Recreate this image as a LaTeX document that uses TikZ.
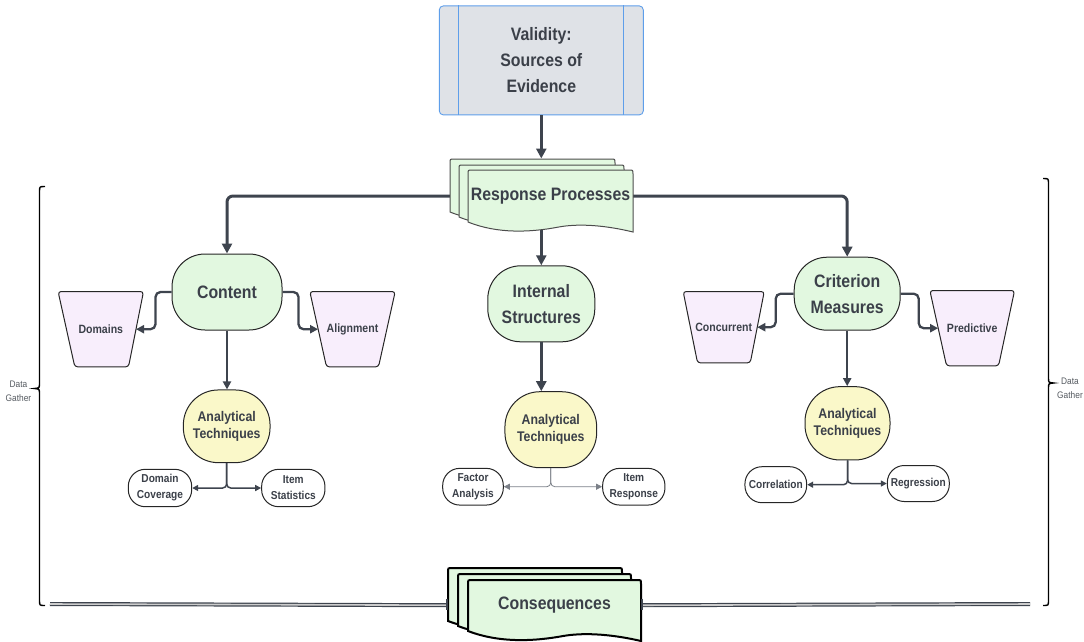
\documentclass[tikz,border=0pt]{standalone}
\usepackage{fontspec}
\setmainfont{Liberation Sans}
\newfontfamily\diagfont{Liberation Sans}[FakeStretch=0.88]
\usetikzlibrary{arrows.meta,backgrounds,calc}

\definecolor{ink}{HTML}{3B4049}
\definecolor{wire}{HTML}{3E444E}
\definecolor{softwire}{HTML}{7B8088}
\definecolor{grn}{HTML}{E2F8E0}
\definecolor{ylw}{HTML}{FAF8C9}
\definecolor{lav}{HTML}{F8EEFC}
\definecolor{topfill}{HTML}{DFE2E7}
\definecolor{topline}{HTML}{5E9EEA}
\definecolor{notegray}{HTML}{555A60}

% one page of a stacked-document shape: style, left x, top y, right x, bottom-left y
\newcommand\docsheet[5]{%
  \path[#1] (#2,#5) -- (#2,{#3+4}) .. controls (#2,#3) .. ({#2+4},#3)
    -- ({#4-4},#3) .. controls (#4,#3) .. (#4,{#3+4}) -- (#4,{#5+10})
    .. controls ({#2+0.8*(#4-#2)},{#5+2}) and ({#2+0.65*(#4-#2)},{#5+2}) .. ({#2+0.55*(#4-#2)},{#5+5})
    .. controls ({#2+0.38*(#4-#2)},{#5+10.4}) and ({#2+0.18*(#4-#2)},{#5+12}) .. (#2,#5) -- cycle;}

% trapezoid outline around a label node: node name, left inset, right inset
\newcommand\trapz[3]{%
  \begin{pgfonlayer}{background}
  \path[trapshape] (#1.north west) -- (#1.north east) -- ([xshift=-#3pt]#1.south east)
    -- ([xshift=#2pt]#1.south west) -- cycle;
  \end{pgfonlayer}}

\begin{document}
\begin{tikzpicture}[x=1pt,y=-1pt,
  bigtext/.style={font=\diagfont\bfseries\fontsize{18}{26}\selectfont, text=ink, align=center, inner sep=0pt},
  midtext/.style={font=\diagfont\bfseries\fontsize{14}{17}\selectfont, text=ink, align=center, inner sep=0pt},
  smalltext/.style={font=\diagfont\bfseries\fontsize{11.5}{16}\selectfont, text=ink, align=center, inner sep=0pt},
  topbox/.style={bigtext, draw=topline, fill=topfill, line width=0.9pt, rounded corners=4pt},
  greenblob/.style={bigtext, draw=black!85, fill=grn, line width=1pt, rounded corners=33pt},
  yellowblob/.style={midtext, draw=black!85, fill=ylw, line width=1pt, rounded corners=35pt},
  pill/.style={smalltext, draw=black!85, fill=white, line width=1pt, rounded corners=17pt},
  traplabel/.style={font=\diagfont\bfseries\fontsize{12}{14}\selectfont, text=ink, align=center, inner sep=0pt},
  trapshape/.style={draw=black!85, fill=lav, line width=1pt, rounded corners=3pt},
  rpsheet/.style={draw=black!70, fill=grn, line width=1pt},
  conssheet/.style={draw=black, fill=grn, line width=2pt},
  note/.style={font=\diagfont\fontsize{9.5}{14}\selectfont, text=notegray, align=center, inner sep=0pt},
  heavy/.style={draw=wire, line width=3pt, -{Triangle[length=10pt,width=10pt]}},
  medium/.style={draw=wire, line width=2.3pt, rounded corners=5pt, -{Triangle[length=8pt,width=8pt]}},
  branch/.style={draw=wire, line width=1.5pt, rounded corners=4pt, -{Triangle[length=6pt,width=6pt]}},
  softbranch/.style={draw=softwire, line width=0.8pt, rounded corners=4pt, -{Triangle[length=6pt,width=6pt]}},
  dbl/.style={draw=wire, line width=1.2pt, double=black!20, double distance=1.6pt},
  brace/.style={draw=black, line width=1.4pt}
]
\useasboundingbox (0,0) rectangle (1084,641);

% ---------- title ----------
\node[topbox, minimum width=204pt, minimum height=109pt] (val) at (541.3,60.4)
  {Validity:\\Sources of\\Evidence};
\draw[topline, line width=0.9pt] ([xshift=20pt]val.north west) -- ([xshift=20pt]val.south west);
\draw[topline, line width=0.9pt] ([xshift=-20pt]val.north east) -- ([xshift=-20pt]val.south east);

% ---------- response processes (stacked documents) ----------
\docsheet{rpsheet}{450}{159}{615}{212}
\docsheet{rpsheet}{459}{165}{624}{217}
\docsheet{rpsheet}{468}{170}{633}{222}
\node[bigtext] (rp) at (550.5,196) {Response Processes};
\coordinate (rptop) at (541.3,158.5);
\draw[heavy] (val.south) -- (rptop);

% ---------- three sources ----------
\node[greenblob, minimum width=110pt, minimum height=76pt] (cont) at (227,292) {Content};
\node[greenblob, minimum width=107pt, minimum height=76pt] (ints) at (541.3,303.8) {Internal\\Structures};
\node[greenblob, minimum width=106pt, minimum height=73pt] (crit) at (847.2,293.7) {Criterion\\Measures};

\begin{pgfonlayer}{background}
\draw[heavy, rounded corners=6pt] (rp.center) -| (cont.north);
\draw[heavy, rounded corners=6pt] (rp.center) -| (crit.north);
\draw[heavy] (ints.north |- rp.center) -- (ints.north);
\end{pgfonlayer}

% ---------- side categories ----------
\node[traplabel, minimum width=85pt, minimum height=75pt] (dom) at (100.8,329.2) {Domains};
\trapz{dom}{16.7}{15}
\node[traplabel, minimum width=85pt, minimum height=75pt] (ali) at (352.5,329.2) {Alignment};
\trapz{ali}{16.7}{16.7}
\node[traplabel, minimum width=80.7pt, minimum height=71pt] (conc) at (723.7,327.2) {Concurrent};
\trapz{conc}{14.4}{14}
\node[traplabel, minimum width=84.3pt, minimum height=75pt] (pred) at (972.2,328.2) {Predictive};
\trapz{pred}{16.7}{16}

\draw[medium] (cont.west) -- ++(-16,0) |- ([xshift=-7.5pt]dom.east);
\draw[medium] (cont.east) -- ++(16,0) |- ([xshift=8.3pt]ali.west);
\draw[medium] (crit.west) -- ++(-18,0) |- ([xshift=-7pt]conc.east);
\draw[medium] (crit.east) -- ++(18,0) |- ([xshift=8.3pt]pred.west);

% ---------- analytical techniques ----------
\node[yellowblob, minimum width=86.7pt, minimum height=72.7pt] (at1) at (226.7,426.3) {Analytical\\Techniques};
\node[yellowblob, minimum width=91.7pt, minimum height=76pt] (at2) at (550.8,429.7) {Analytical\\Techniques};
\node[yellowblob, minimum width=85pt, minimum height=73.3pt] (at3) at (847.5,423.3) {Analytical\\Techniques};

\draw[medium] (cont.south) -- (cont.south |- at1.north);
\draw[heavy] (ints.south) -- (ints.south |- at2.north);
\draw[medium] (crit.south) -- (crit.south |- at3.north);

% ---------- methods ----------
\node[pill, minimum width=63.4pt, minimum height=37.4pt] (dcov) at (160,488) {Domain\\Coverage};
\node[pill, minimum width=63.3pt, minimum height=37.4pt] (istat) at (293.3,488) {Item\\Statistics};
\node[pill, minimum width=60.6pt, minimum height=36.7pt] (fa) at (473,486.7) {Factor\\Analysis};
\node[pill, minimum width=62.3pt, minimum height=36.7pt] (ir) at (633.8,486.7) {Item\\Response};
\node[pill, minimum width=61.7pt, minimum height=36pt] (corr) at (775.8,484.7) {Correlation};
\node[pill, minimum width=62pt, minimum height=36pt] (reg) at (918.3,483.5) {Regression};

\draw[branch] (at1.south) |- (dcov.east);
\draw[branch] (at1.south) |- (istat.west);
\draw[softbranch] (at2.south) |- (fa.east);
\draw[softbranch] (at2.south) |- (ir.west);
\draw[branch] (at3.south) |- (corr.east);
\draw[branch] (at3.south) |- (reg.west);

% ---------- consequences ----------
\docsheet{conssheet}{448}{568}{622}{621}
\docsheet{conssheet}{458}{574}{631}{626}
\docsheet{conssheet}{468}{580}{641}{631}
\node[bigtext] (cons) at (554.5,605.5) {Consequences};
\coordinate (dl) at (50,604);
\coordinate (dr) at (1030,604);
\begin{pgfonlayer}{background}
\draw[dbl] (dl) -- (cons.center);
\draw[dbl] (cons.center) -- (dr);
\end{pgfonlayer}
\draw[wire, line width=2.4pt] (446.8,598.5) -- (446.8,609.5);
\draw[wire, line width=2.4pt] (642.2,598.5) -- (642.2,609.5);

% ---------- data-gathering braces ----------
\draw[brace] (45,186.5) .. controls (39.5,186.5) .. (39.5,192) -- (39.5,383)
  .. controls (39.5,388) .. (34.5,388.5) .. controls (39.5,389) .. (39.5,394)
  -- (39.5,600) .. controls (39.5,605.5) .. (45,605.5);
\node[note] (lg) at (18.5,391) {Data\\Gather};

\draw[brace] (1043,178.5) .. controls (1048.5,178.5) .. (1048.5,184) -- (1048.5,378)
  .. controls (1048.5,382.5) .. (1053.5,383) .. controls (1048.5,383.5) .. (1048.5,388)
  -- (1048.5,600) .. controls (1048.5,605.5) .. (1043,605.5);
\node[note] (rg) at (1070,388) {Data\\Gather};
\end{tikzpicture}
\end{document}
